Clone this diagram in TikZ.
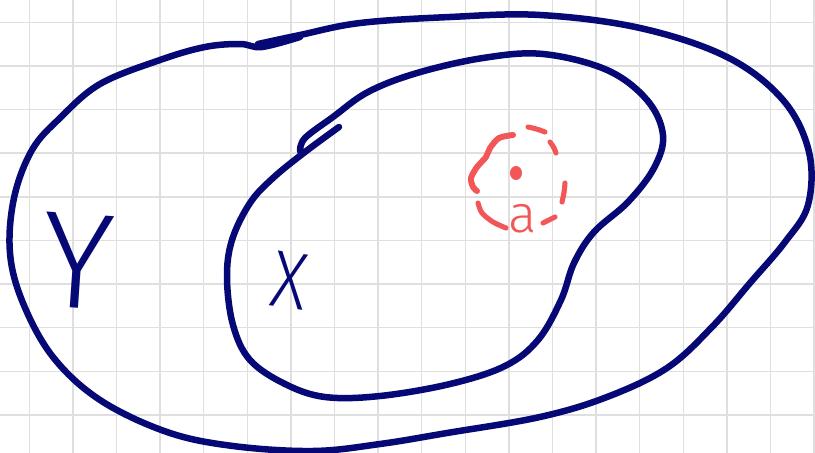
\documentclass[tikz,border=0pt]{standalone}
\usepackage{fontspec}
\newfontfamily\handfont{Fira Sans Light}

\definecolor{inknavy}{RGB}{6,8,118}
\definecolor{inkred}{RGB}{242,86,86}

\begin{document}
\begin{tikzpicture}[
    x=0.02cm, y=-0.02cm,
    gridline/.style={draw=gray!25, line width=0.8pt},
    blob/.style={draw=inknavy, line width=3.7pt, line cap=round, line join=round},
    dashpiece/.style={draw=inkred, line width=2.9pt, line cap=round, line join=round},
    letter/.style={inner sep=0pt, text=#1}
]

% Page and squared paper
\useasboundingbox (0,0) rectangle (815,453);
\clip (0,0) rectangle (815,453);
\fill[white] (0,0) rectangle (815,453);
\foreach \gx in {0,...,18}
    \draw[gridline] ({29.3+43.6*\gx},0) -- ({29.3+43.6*\gx},453);
\foreach \gy in {0,...,9}
    \draw[gridline] (0,{22.4+43.6*\gy}) -- (815,{22.4+43.6*\gy});

% Outer set Y
\draw[blob] plot[smooth, tension=0.6] coordinates {
    (258,44) (300,35) (360,23) (450,17) (540,15) (640,28) (727,57)
    (783,100) (809,152) (808,205) (785,242) (750,283) (712,327)
    (667,368) (607,397) (540,417) (447,433) (380,444) (313,451)
    (233,446) (167,432) (100,400) (53,357) (23,303) (10,253) (14,198)
    (32,150) (60,118) (100,84) (160,60) (205,47) (240,44) (262,47) (300,37)};

% Inner set X
\draw[blob] plot[smooth, tension=0.6] coordinates {
    (300,151) (305,138) (333,117) (368,92) (417,73) (483,58) (543,54)
    (607,70) (647,100) (663,135) (654,168) (628,202) (594,232)
    (574,263) (561,300) (538,340) (505,366) (450,384) (380,396)
    (325,397) (285,384) (250,360) (233,325) (227,278) (232,240)
    (250,203) (273,178) (305,152) (339,127)};

% Dashed neighbourhood of the point
\draw[dashpiece, line width=3.4pt] plot[smooth] coordinates {
    (513,135) (499,138) (490,148) (486,157) (477,167) (471,178) (473,187) (477,191)};
\draw[dashpiece] (528,127) to[bend left=5] (545,132);
\draw[dashpiece] (550,142) to[bend left=10] (556,153);
\draw[dashpiece] (565,183) to[bend left=5] (562,202);
\draw[dashpiece] plot[smooth] coordinates {(478,203) (482,213) (493,222) (506,228)};
\draw[dashpiece] (543,223) -- (555,217);
\fill[inkred] (516,173) ellipse [x radius=0.12cm, y radius=0.14cm];

% Labels
\node[letter=inknavy, font=\handfont\fontsize{78}{78}\selectfont, rotate=-4] (ylabel) at (78,261) {Y};
\node[letter=inknavy, font=\handfont\fontsize{46}{46}\selectfont, rotate=-8] (xlabel) at (290,281) {\scalebox{0.85}[1]{X}};
\node[letter=inkred, font=\handfont\fontsize{30}{30}\selectfont] (alabel) at (523,219) {a};

\end{tikzpicture}
\end{document}
